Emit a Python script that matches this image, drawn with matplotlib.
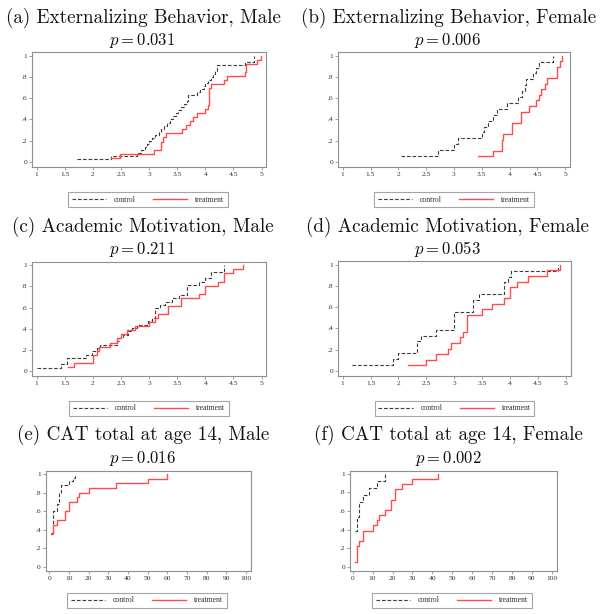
import matplotlib
matplotlib.use('Agg')
import matplotlib.pyplot as plt
from matplotlib.lines import Line2D

plt.rcParams['mathtext.fontset'] = 'cm'
plt.rcParams['font.family'] = ['Liberation Serif', 'DejaVu Serif']

# ---------------- data ----------------
titles = ['(a) Externalizing Behavior, Male', '(b) Externalizing Behavior, Female',
          '(c) Academic Motivation, Male', '(d) Academic Motivation, Female',
          '(e) CAT total at age 14, Male', '(f) CAT total at age 14, Female']
pvalues = ['0.031', '0.006', '0.211', '0.053', '0.016', '0.002']
legend_labels = ['control', 'treatment']

a_control_x = [1.71, 2.33, 2.78, 2.85, 2.92, 2.97, 3.00, 3.05, 3.10, 3.17, 3.22, 3.27, 3.32, 3.37, 3.42, 3.47,
               3.52, 3.57, 3.62, 3.67, 3.70, 3.85, 3.90, 3.97, 4.00, 4.05, 4.10, 4.13, 4.17, 4.20, 4.70, 4.87]
a_control_y = [0.029, 0.057, 0.086, 0.114, 0.143, 0.171, 0.2, 0.229, 0.257, 0.286, 0.314, 0.343, 0.371, 0.4,
               0.429, 0.457, 0.486, 0.514, 0.543, 0.571, 0.629, 0.657, 0.686, 0.714, 0.743, 0.771, 0.8, 0.829,
               0.857, 0.914, 0.943, 1.0]
a_treat_x = [2.33, 2.48, 3.09, 3.21, 3.24, 3.30, 3.58, 3.66, 3.72, 3.78, 3.86, 4.00, 4.04, 4.07, 4.11, 4.34,
             4.38, 4.70, 4.72, 4.92, 4.99]
a_treat_y = [0.038, 0.077, 0.115, 0.192, 0.231, 0.269, 0.308, 0.346, 0.385, 0.423, 0.462, 0.5, 0.538, 0.692,
             0.731, 0.769, 0.808, 0.846, 0.923, 0.962, 1.0]

b_control_x = [2.04, 2.71, 3.00, 3.07, 3.50, 3.54, 3.62, 3.70, 3.78, 3.95, 4.15, 4.23, 4.27, 4.30, 4.42, 4.47,
               4.52, 4.78]
b_control_y = [0.056, 0.111, 0.167, 0.222, 0.278, 0.333, 0.389, 0.444, 0.5, 0.556, 0.611, 0.667, 0.722, 0.778,
               0.833, 0.889, 0.944, 1.0]
b_treat_x = [3.43, 3.70, 3.86, 3.88, 4.05, 4.20, 4.34, 4.48, 4.52, 4.57, 4.63, 4.67, 4.86, 4.91, 4.95]
b_treat_y = [0.053, 0.105, 0.211, 0.263, 0.368, 0.474, 0.526, 0.579, 0.632, 0.684, 0.737, 0.789, 0.895, 0.947,
             1.0]

c_control_x = [1.00, 1.43, 1.53, 1.88, 1.99, 2.07, 2.13, 2.42, 2.47, 2.53, 2.62, 2.70, 2.78, 2.98, 3.05, 3.10,
               3.20, 3.29, 3.41, 3.54, 3.67, 3.88, 4.00, 4.11, 4.33]
c_control_y = [0.031, 0.063, 0.125, 0.156, 0.188, 0.219, 0.25, 0.281, 0.313, 0.344, 0.375, 0.406, 0.438, 0.469,
               0.5, 0.594, 0.625, 0.656, 0.688, 0.719, 0.813, 0.844, 0.875, 0.938, 1.0]
c_treat_x = [1.56, 1.66, 2.00, 2.07, 2.11, 2.31, 2.43, 2.50, 2.60, 2.75, 3.00, 3.10, 3.15, 3.33, 3.56, 3.88,
             4.00, 4.22, 4.33, 4.50, 4.67]
c_treat_y = [0.038, 0.077, 0.154, 0.192, 0.231, 0.269, 0.308, 0.346, 0.385, 0.423, 0.462, 0.5, 0.538, 0.615,
             0.692, 0.731, 0.808, 0.846, 0.923, 0.962, 1.0]

d_control_x = [1.17, 1.90, 2.00, 2.34, 2.41, 2.67, 3.00, 3.33, 3.45, 3.90, 3.96, 4.02, 4.86]
d_control_y = [0.056, 0.111, 0.167, 0.278, 0.333, 0.389, 0.556, 0.667, 0.722, 0.833, 0.889, 0.944, 1.0]
d_treat_x = [2.17, 2.50, 2.67, 2.89, 2.95, 3.10, 3.16, 3.22, 3.50, 3.67, 3.89, 4.00, 4.12, 4.33, 4.67, 4.89]
d_treat_y = [0.053, 0.105, 0.158, 0.211, 0.263, 0.316, 0.368, 0.526, 0.579, 0.632, 0.684, 0.789, 0.842, 0.895,
             0.947, 1.0]

e_control_x = [1, 2, 4, 5, 6, 10, 12, 13]
e_control_y = [0.36, 0.6, 0.68, 0.8, 0.88, 0.92, 0.96, 1.0]
e_treat_x = [1, 2, 4, 8, 10, 14, 15, 20, 34, 50, 60]
e_treat_y = [0.35, 0.45, 0.5, 0.6, 0.7, 0.75, 0.8, 0.85, 0.9, 0.95, 1.0]

f_control_x = [1, 2, 3, 5, 8, 12, 16]
f_control_y = [0.385, 0.538, 0.692, 0.769, 0.846, 0.923, 1.0]
f_treat_x = [1, 2, 3, 5, 10, 12, 13, 16, 19, 21, 25, 30, 43]
f_treat_y = [0.056, 0.222, 0.278, 0.389, 0.444, 0.5, 0.556, 0.611, 0.722, 0.833, 0.889, 0.944, 1.0]

scale_ticks = [1, 1.5, 2, 2.5, 3, 3.5, 4, 4.5, 5]
scale_ticklabels = ['1', '1.5', '2', '2.5', '3', '3.5', '4', '4.5', '5']
cat_ticks = [0, 10, 20, 30, 40, 50, 60, 70, 80, 90, 100]
cat_ticklabels = ['0', '10', '20', '30', '40', '50', '60', '70', '80', '90', '100']
y_ticks = [0, 0.2, 0.4, 0.6, 0.8, 1.0]
y_ticklabels = ['0', '.2', '.4', '.6', '.8', '1']

series = [
    (a_control_x, a_control_y, a_treat_x, a_treat_y),
    (b_control_x, b_control_y, b_treat_x, b_treat_y),
    (c_control_x, c_control_y, c_treat_x, c_treat_y),
    (d_control_x, d_control_y, d_treat_x, d_treat_y),
    (e_control_x, e_control_y, e_treat_x, e_treat_y),
    (f_control_x, f_control_y, f_treat_x, f_treat_y),
]

# ---------------- layout (pixels) ----------------
W, H = 602, 614
fig = plt.figure(figsize=(W / 100, H / 100), dpi=100)

# left, right, top, bottom of plot frame in px
frames = [(32, 266, 52, 167), (338, 570, 52, 167),
          (32, 266, 261.5, 376), (338, 570.5, 261, 376),
          (45.7, 250.5, 470.7, 571), (350, 556.5, 470.5, 571)]
xlims = [(0.916, 5.08), (0.915, 5.085), (0.916, 5.08), (0.915, 5.085), (-1.78, 102.2), (-1.35, 102.3)]
ylims = [(-0.047, 1.035)] * 4 + [(-0.046, 1.036)] * 2
title_pos = [(143.5, 22.7), (449, 22.7), (143, 231.5), (447.5, 231.5), (143, 440), (448, 440)]
p_pos = [(142.5, 45), (447.5, 45), (142.5, 254), (447.5, 254), (143, 463), (448, 463)]
legend_pos = [(148, 199.7), (454, 199.7), (149, 408.5), (454.5, 408.5), (147, 600.3), (452, 600.5)]

ctrl_color = '#3a3a3a'
treat_color = '#ff4d4d'
frame_color = '#8f8f8f'

for i in range(6):
    l, r, t, b = frames[i]
    ax = fig.add_axes([l / W, 1 - b / H, (r - l) / W, (b - t) / H])
    cx, cy, tx, ty = series[i]
    ax.plot(cx, cy, drawstyle='steps-post', color=ctrl_color, lw=0.8, dashes=(3.2, 1.8))
    ax.plot(tx, ty, drawstyle='steps-post', color=treat_color, lw=1.0)
    ax.set_xlim(*xlims[i])
    ax.set_ylim(*ylims[i])
    if i < 4:
        ax.set_xticks(scale_ticks)
        ax.set_xticklabels(scale_ticklabels)
    else:
        ax.set_xticks(cat_ticks)
        ax.set_xticklabels(cat_ticklabels)
    ax.set_yticks(y_ticks)
    ax.set_yticklabels(y_ticklabels)
    for s in ax.spines.values():
        s.set_color(frame_color)
        s.set_linewidth(0.8)
    ax.tick_params(axis='both', direction='out', length=2.2, width=0.6, color=frame_color,
                   labelsize=5.4, labelcolor='#333333', pad=1.2)

    fig.text(title_pos[i][0] / W, 1 - title_pos[i][1] / H, titles[i], family='cmr10',
             fontsize=13.75, ha='center', va='baseline', color='#111111')
    fig.text(p_pos[i][0] / W, 1 - p_pos[i][1] / H, r'$p = %s$' % pvalues[i],
             fontsize=12, ha='center', va='baseline', color='#111111')

    handles = [Line2D([], [], color=ctrl_color, lw=0.8, dashes=(3.2, 1.8)),
               Line2D([], [], color=treat_color, lw=1.0)]
    leg = fig.legend(handles, legend_labels, loc='center', ncol=2,
                     bbox_to_anchor=(legend_pos[i][0] / W, 1 - legend_pos[i][1] / H),
                     bbox_transform=fig.transFigure, fontsize=5.6, frameon=True, fancybox=False,
                     handlelength=4.4, handletextpad=1.0, columnspacing=2.2, borderpad=0.45,
                     borderaxespad=0)
    leg.get_frame().set_edgecolor(frame_color)
    leg.get_frame().set_linewidth(0.8)
    for txt in leg.get_texts():
        txt.set_color('#333333')

fig.savefig('out.png', dpi=100)
